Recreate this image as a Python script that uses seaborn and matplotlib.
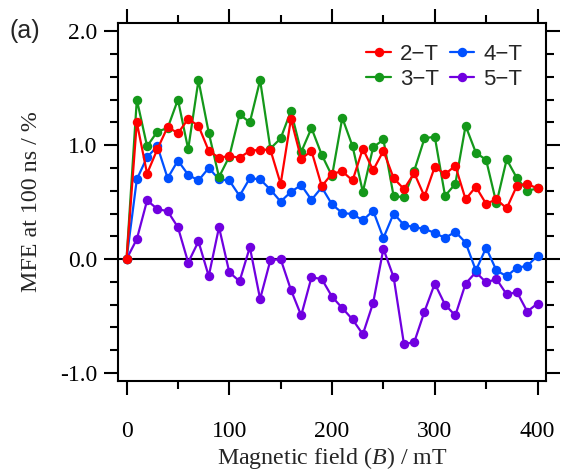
import pandas as pd
import matplotlib
matplotlib.use("Agg")
import matplotlib.pyplot as plt
import seaborn as sns
from matplotlib.ticker import MultipleLocator, FormatStrFormatter

# magnetic field (mT) and MFE at 100 ns (%) for each sample
field = list(range(0, 401, 10))

mfe_2t = [0.0, 1.20, 0.75, 0.965, 1.16, 1.105, 1.23, 1.17, 0.95, 0.89,
          0.905, 0.89, 0.95, 0.96, 0.96, 0.66, 1.23, 0.88, 0.95, 0.64,
          0.75, 0.77, 0.69, 0.97, 0.78, 0.95, 0.71, 0.615, 0.755, 0.55,
          0.81, 0.745, 0.82, 0.525, 0.635, 0.485, 0.525, 0.445, 0.645, 0.66,
          0.62]
mfe_3t = [0.0, 1.40, 0.99, 1.12, 1.15, 1.40, 0.965, 1.57, 1.11, 0.72,
          0.90, 1.27, 1.20, 1.57, 0.97, 1.06, 1.30, 0.94, 1.15, 0.915,
          0.73, 1.24, 0.99, 0.59, 0.98, 1.05, 0.55, 0.545, 0.775, 1.06,
          1.075, 0.555, 0.66, 1.17, 0.935, 0.87, 0.49, 0.875, 0.71, 0.60,
          0.62]
mfe_4t = [0.0, 0.70, 0.895, 0.99, 0.71, 0.865, 0.74, 0.69, 0.80, 0.70,
          0.69, 0.555, 0.71, 0.70, 0.61, 0.505, 0.59, 0.65, 0.52, 0.63,
          0.48, 0.405, 0.395, 0.34, 0.425, 0.185, 0.40, 0.30, 0.28, 0.265,
          0.23, 0.185, 0.24, 0.145, -0.10, 0.10, -0.10, -0.15, -0.075, -0.06,
          0.03]
mfe_5t = [0.0, 0.175, 0.515, 0.44, 0.42, 0.28, -0.03, 0.155, -0.15, 0.28,
          -0.115, -0.195, 0.105, -0.35, -0.01, 0.0, -0.27, -0.495, -0.16, -0.175,
          -0.33, -0.43, -0.53, -0.66, -0.385, 0.09, -0.16, -0.745, -0.73, -0.46,
          -0.215, -0.40, -0.495, -0.215, -0.115, -0.205, -0.175, -0.31, -0.29, -0.46,
          -0.39]

labels = ["2\u2212T", "3\u2212T", "4\u2212T", "5\u2212T"]
colors = ["#ff0000", "#14981a", "#0050ff", "#7000e0"]

df = pd.concat([
    pd.DataFrame({"B": field, "MFE": vals, "sample": lab})
    for lab, vals in zip(labels, [mfe_2t, mfe_3t, mfe_4t, mfe_5t])
])

sns.set_style("ticks")
plt.rcParams["font.family"] = ["Liberation Serif", "DejaVu Serif"]
plt.rcParams["axes.unicode_minus"] = False
plt.rcParams["mathtext.fontset"] = "custom"
plt.rcParams["mathtext.rm"] = "Liberation Serif"
plt.rcParams["mathtext.it"] = "Liberation Serif:italic"

fig = plt.figure(figsize=(5.64, 4.72), dpi=100)
ax = fig.add_axes([0.2098, 0.1928, 0.7578, 0.7591])

ax.axhline(0, color="black", lw=1.5, zorder=1)

# purple first, red last so red sits on top
for lab, col in list(zip(labels, colors))[::-1]:
    sub = df[df["sample"] == lab]
    sns.lineplot(data=sub, x="B", y="MFE", ax=ax, color=col, lw=1.6,
                 marker="o", markersize=6.8, markeredgecolor=col,
                 markeredgewidth=0, label=lab, zorder=3)

h, l = ax.get_legend_handles_labels()
order = [l.index(x) for x in labels]
ax.legend([h[i] for i in order], [l[i] for i in order], ncol=2,
          loc="upper right", bbox_to_anchor=(0.945, 0.94), frameon=False,
          borderpad=0, borderaxespad=0, handlelength=1.1, handletextpad=0.4,
          columnspacing=0.5, labelspacing=0.15,
          prop={"family": "Liberation Sans", "size": 16})

ax.set_xlim(-8, 408)
ax.set_ylim(-1.07, 2.075)
ax.xaxis.set_major_locator(MultipleLocator(100))
ax.xaxis.set_minor_locator(MultipleLocator(50))
ax.yaxis.set_major_locator(MultipleLocator(1.0))
ax.yaxis.set_minor_locator(MultipleLocator(0.2))
ax.yaxis.set_major_formatter(FormatStrFormatter("%.1f"))

ax.tick_params(which="both", direction="out", top=True, right=True,
               width=1.5, colors="black", labelsize=17)
ax.tick_params(which="major", length=10)
ax.tick_params(which="minor", length=5.5)
ax.tick_params(axis="x", which="major", pad=19)
ax.tick_params(axis="y", which="major", pad=5)
for s in ax.spines.values():
    s.set_linewidth(1.5)
    s.set_color("black")

ax.set_xlabel("Magnetic field ($\\mathit{B}$) / mT", fontsize=17.3, labelpad=2)
ax.set_ylabel("MFE at 100 ns / %", fontsize=17.3, labelpad=13)

fig.text(0.017, 0.935, "(a)", fontsize=18, family="Liberation Sans",
         va="center")

fig.savefig("out.png", dpi=100)
